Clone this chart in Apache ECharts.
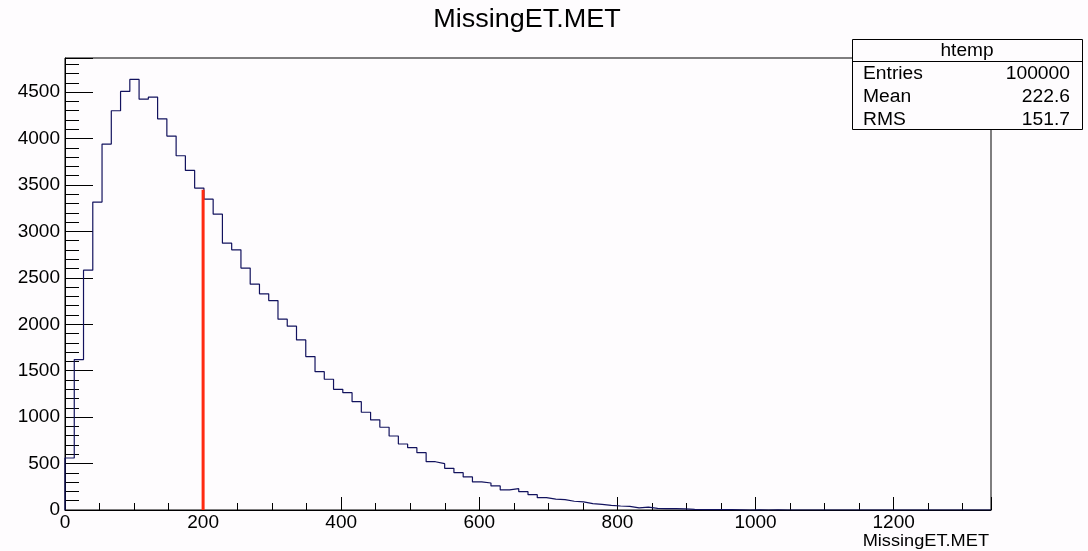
<!DOCTYPE html>
<html>
<head>
<meta charset="utf-8">
<script src="https://cdn.jsdelivr.net/npm/echarts@6/dist/echarts.min.js"></script>
<style>
html,body{margin:0;padding:0;background:#fefcfe;}
#chart{width:1088px;height:551px;}
</style>
</head>
<body>
<div id="chart"></div>
<script>
// ---- data ----
const chartTitle = 'MissingET.MET';
const xAxisTitle = 'MissingET.MET';
const xRange = [0, 1341];      // histogram range (100 equal bins)
const nBins = 100;
const yRange = [0, 4868];
const xMajorStep = 200, xMinorStep = 50;
const yMajorStep = 500, yMinorStep = 100;
const binCounts = [
  560, 1620, 2583, 3316, 3941, 4300, 4508, 4637, 4425, 4447,
  4213, 4027, 3815, 3657, 3467, 3348, 3186, 2874, 2802, 2605,
  2432, 2328, 2255, 2055, 1980, 1832, 1652, 1490, 1408, 1300,
  1264, 1167, 1053, 970, 891, 797, 711, 671, 617, 520,
  499, 449, 402, 356, 302, 291, 259, 216, 230, 197,
  165, 133, 118, 112, 94, 88, 68, 61, 50, 43,
  40, 22, 30, 17, 15, 14, 12, 6, 5, 5,
  3, 3, 2, 0, 2, 0, 1, 0, 0, 0,
  0, 0, 0, 0, 0, 0, 0, 0, 0, 0,
  0, 0, 0, 0, 0, 0, 0, 0, 0, 0
];
const cutLine = [200, 3450];   // red vertical line: x position, top value
const statsName = 'htemp';
const statsLabels = ['Entries', 'Mean', 'RMS'];
const statsValues = ['100000', '222.6', '151.7'];

// ---- build histogram outline ----
const binWidth = (xRange[1] - xRange[0]) / nBins;
const histPts = [[xRange[0], 0]];
binCounts.forEach((v, i) => histPts.push([xRange[0] + i * binWidth, v]));
histPts.push([xRange[1], binCounts[nBins - 1]]);

const FONT = 'Liberation Sans, Arial, Helvetica, sans-serif';
const grid = {left: 65, right: 97, top: 58, bottom: 41};

const fmtX = v => (Math.abs(v % xMajorStep) < 1e-6 ? String(v) : '');
const fmtY = v => (Math.abs(v % yMajorStep) < 1e-6 ? String(v) : '');

const chart = echarts.init(document.getElementById('chart'), null, {renderer: 'canvas'});

const statsX = 852, statsY = 39, statsW = 230, statsH = 90, statsHead = 22;
const graphics = [
  {type: 'text', x: 527, y: 20, scaleX: 1.08, style: {text: chartTitle, font: '25px ' + FONT, fill: '#000', textAlign: 'center', textVerticalAlign: 'middle'}, z: 10},
  {type: 'text', x: 989, y: 541, scaleX: 1.07, style: {text: xAxisTitle, font: '17px ' + FONT, fill: '#000', textAlign: 'right', textVerticalAlign: 'middle'}, z: 10},
  {type: 'rect', shape: {x: statsX + 0.5, y: statsY + 0.5, width: statsW, height: statsH}, style: {fill: '#fefcfe', stroke: '#000', lineWidth: 1}, z: 20},
  {type: 'line', shape: {x1: statsX, y1: statsY + statsHead + 0.5, x2: statsX + statsW, y2: statsY + statsHead + 0.5}, style: {stroke: '#000', lineWidth: 1}, z: 21},
  {type: 'text', x: statsX + statsW / 2, y: statsY + 12.5, scaleX: 1.06, style: {text: statsName, font: '18px ' + FONT, fill: '#000', textAlign: 'center', textVerticalAlign: 'middle'}, z: 22}
];
statsLabels.forEach((lab, i) => {
  const y = statsY + statsHead + 13.5 + i * 23;
  graphics.push({type: 'text', x: statsX + 11, y: y, scaleX: 1.07, style: {text: lab, font: '18px ' + FONT, fill: '#000', textAlign: 'left', textVerticalAlign: 'middle'}, z: 22});
  graphics.push({type: 'text', x: statsX + statsW - 12, y: y, scaleX: 1.07, style: {text: statsValues[i], font: '18px ' + FONT, fill: '#000', textAlign: 'right', textVerticalAlign: 'middle'}, z: 22});
});

const axisCommon = {
  type: 'value', splitLine: {show: false}, axisPointer: {show: false}
};

chart.setOption({
  animation: false,
  backgroundColor: '#fefcfe',
  grid: Object.assign({show: true, borderColor: '#000', borderWidth: 1, backgroundColor: 'transparent'}, grid),
  xAxis: [
    Object.assign({}, axisCommon, {
      position: 'bottom', min: xRange[0], max: xRange[1], interval: xMajorStep,
      axisLine: {show: true, onZero: false, lineStyle: {color: '#000', width: 1}},
      axisTick: {show: true, inside: true, length: 13, lineStyle: {color: '#000', width: 1}},
      axisLabel: {show: true, formatter: fmtX, color: '#000', fontSize: 19, fontFamily: FONT, margin: 3, showMaxLabel: true, showMinLabel: true}
    }),
    Object.assign({}, axisCommon, {
      position: 'bottom', min: xRange[0], max: xRange[1], interval: xMinorStep,
      axisLine: {show: false, onZero: false},
      axisTick: {show: true, inside: true, length: 7, lineStyle: {color: '#000', width: 1}},
      axisLabel: {show: false}
    })
  ],
  yAxis: [
    Object.assign({}, axisCommon, {
      position: 'left', min: yRange[0], max: yRange[1], interval: yMajorStep,
      axisLine: {show: true, onZero: false, lineStyle: {color: '#000', width: 1}},
      axisTick: {show: true, inside: true, length: 28, lineStyle: {color: '#000', width: 1}},
      axisLabel: {show: true, formatter: fmtY, color: '#000', fontSize: 19, fontFamily: FONT, margin: 5}
    }),
    Object.assign({}, axisCommon, {
      position: 'left', min: yRange[0], max: yRange[1], interval: yMinorStep,
      axisLine: {show: false, onZero: false},
      axisTick: {show: true, inside: true, length: 14, lineStyle: {color: '#000', width: 1}},
      axisLabel: {show: false}
    })
  ],
  series: [
    {
      type: 'line', xAxisIndex: 0, yAxisIndex: 0, step: 'end', data: histPts,
      symbol: 'none', lineStyle: {color: '#12125e', width: 1.2}, z: 3
    },
    {
      type: 'line', xAxisIndex: 0, yAxisIndex: 0,
      data: [[cutLine[0], 0], [cutLine[0], cutLine[1]]],
      symbol: 'none', lineStyle: {color: '#ff2a10', width: 3}, z: 4
    }
  ],
  graphic: graphics
});
</script>
</body>
</html>
